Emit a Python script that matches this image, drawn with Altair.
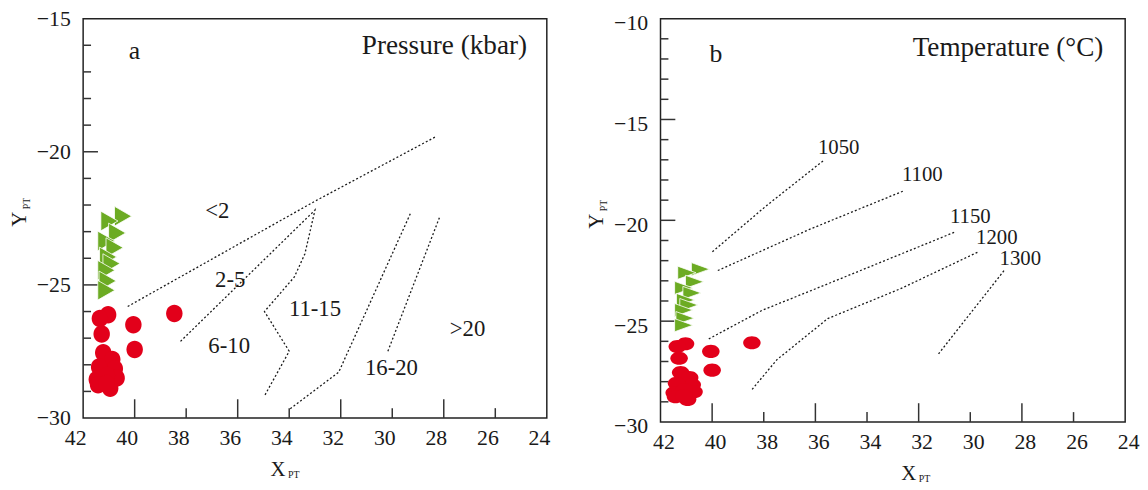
import altair as alt
import pandas as pd

FONT = "Liberation Serif"
RED = "#e2001a"
GREEN = "#6cab23"
INK = "#1a1a1a"

# ---------------- data ----------------
# green triangles (same samples in both panels)
tri_x = [40.45, 40.98, 40.68, 41.10, 40.78, 41.03, 40.90, 41.10, 41.05, 41.10]
tri_y = [-22.42, -22.60, -23.05, -23.35, -23.60, -23.95, -24.20, -24.45, -24.85, -25.20]

# red ellipses
ell_x = [41.03, 41.35, 41.28, 40.05, 40.00, 38.46, 41.22, 40.87, 40.77, 41.38,
         40.70, 41.47, 41.08, 41.42, 40.95, 41.10]
ell_y = [-26.12, -26.26, -26.84, -26.50, -27.43, -26.07, -27.55, -27.80, -28.15, -28.08,
         -28.50, -28.55, -28.40, -28.75, -28.88, -28.70]

# axis ticks
x_ticks = [42, 40, 38, 36, 34, 32, 30, 28, 26, 24]
x_long = [40, 36, 32, 28]
x_short = [38, 34, 30, 26]
ya_ticks = [-30, -25, -20, -15]
ya_major = [-25, -20]
ya_minor = [-29, -28, -27, -26, -24, -23, -22, -21, -19, -18, -17, -16]
yb_ticks = [-30, -25, -20, -15, -10]
yb_major = [-25, -20, -15]
yb_minor = [-29, -28, -27, -26, -24, -23, -22, -21, -19, -18, -17, -16,
            -14, -13, -12, -11]

# pressure boundaries (panel a)
p1_x = [40.27, 32.97, 28.34]
p1_y = [-25.81, -21.84, -19.45]
p2_x = [38.22, 33.00, 33.39, 33.80, 34.96, 34.00, 34.96]
p2_y = [-27.12, -22.19, -23.83, -24.70, -26.00, -27.49, -29.17]
p3_x = [33.96, 32.08, 29.30]
p3_y = [-29.65, -28.28, -22.33]
p4_x = [30.17, 28.14]
p4_y = [-27.49, -22.40]
p_lab = ["<2", "2-5", "6-10", "11-15", "16-20", ">20"]
p_lab_x = [36.79, 36.29, 36.33, 33.00, 30.03, 27.08]
p_lab_y = [-22.24, -24.80, -27.31, -25.92, -28.12, -26.66]

# isotherms (panel b)
t1050_x = [39.99, 37.92, 35.69]
t1050_y = [-21.56, -19.30, -17.04]
t1100_x = [39.78, 36.23, 32.54]
t1100_y = [-22.49, -20.45, -18.52]
t1150_x = [40.13, 38.06, 35.52, 30.59]
t1150_y = [-25.88, -24.46, -23.15, -20.58]
t1200_x = [38.45, 37.49, 35.52, 32.70, 29.68]
t1200_y = [-28.38, -26.91, -24.87, -23.39, -21.56]
t1300_x = [31.23, 28.69]
t1300_y = [-26.62, -22.49]
t_lab = ["1050", "1100", "1150", "1200", "1300"]
t_lab_x = [35.10, 31.86, 30.00, 28.97, 28.06]
t_lab_y = [-16.40, -17.78, -19.85, -20.90, -21.92]


def lines_df(series):
    rows = []
    for gi, (xs, ys) in enumerate(series):
        for oi, (a, b) in enumerate(zip(xs, ys)):
            rows.append({"x": a, "y": b, "g": gi, "o": oi})
    return pd.DataFrame(rows)


def panel(w, h, ydom, y_ticks, y_major, y_minor, lines, labs, labs_x, labs_y,
          tag, title, ell_shape, ell_size, tri_shape, tri_size, xoff, yoff,
          xt_pos, tag_pos, title_pos, lab_size):
    xs = alt.Scale(domain=[24, 42], reverse=True, nice=False, zero=False)
    ys = alt.Scale(domain=ydom, nice=False, zero=False)
    xax = alt.Axis(values=x_ticks, title=None, ticks=False, tickSize=0, domain=False,
                   grid=False, labelFont=FONT, labelFontSize=22, labelColor=INK,
                   labelPadding=10, labelFlush=False, labelOverlap=False,
                   labelOffset=xoff, format="d")
    yax = alt.Axis(values=y_ticks, title=None, ticks=False, tickSize=0, domain=False,
                   grid=False, labelFont=FONT, labelFontSize=22, labelColor=INK,
                   labelPadding=13, labelFlush=False, labelOverlap=False,
                   labelOffset=yoff, format="d")
    X = lambda f: alt.X(f + ":Q", scale=xs, axis=xax)
    Y = lambda f: alt.Y(f + ":Q", scale=ys, axis=yax)

    ldf = lines_df(lines)
    line_layer = alt.Chart(ldf).mark_line(
        color=INK, strokeWidth=1.3, strokeDash=[2, 2.2]
    ).encode(x=X("x"), y=Y("y"), detail="g:N", order="o:Q")

    lab_layer = alt.Chart(pd.DataFrame({"x": labs_x, "y": labs_y, "t": labs})).mark_text(
        font=FONT, fontSize=lab_size, color=INK, align="center", baseline="middle"
    ).encode(x=X("x"), y=Y("y"), text="t:N")

    tri = alt.Chart(pd.DataFrame({"x": tri_x, "y": tri_y})).mark_point(
        shape=tri_shape, filled=True, fill=GREEN, fillOpacity=1, opacity=1,
        stroke="white", strokeWidth=0.8, size=tri_size
    ).encode(x=X("x"), y=Y("y"))

    ell = alt.Chart(pd.DataFrame({"x": ell_x, "y": ell_y})).mark_point(
        shape=ell_shape, filled=True, fill=RED, fillOpacity=1, opacity=1,
        strokeWidth=0, size=ell_size
    ).encode(x=X("x"), y=Y("y"))

    xl = alt.Chart(pd.DataFrame({"x": x_long})).mark_rule(color="#333", strokeWidth=1.5).encode(
        x=X("x"), y=alt.value(h), y2=alt.value(h - 19))
    xsh = alt.Chart(pd.DataFrame({"x": x_short})).mark_rule(color="#333", strokeWidth=1.5).encode(
        x=X("x"), y=alt.value(h), y2=alt.value(h - 10))
    yl = alt.Chart(pd.DataFrame({"y": y_major})).mark_rule(color="#333", strokeWidth=1.5).encode(
        y=Y("y"), x=alt.value(0), x2=alt.value(15))
    ysm = alt.Chart(pd.DataFrame({"y": y_minor})).mark_rule(color="#333", strokeWidth=1.5).encode(
        y=Y("y"), x=alt.value(0), x2=alt.value(8))

    one = pd.DataFrame({"k": [0]})
    def txt(s, x, y, size, align="center", angle=0, baseline="middle"):
        kw = dict(text=s, font=FONT, fontSize=size, color=INK, align=align, baseline=baseline)
        if angle:
            kw["angle"] = angle
        return alt.Chart(one).mark_text(**kw).encode(x=alt.value(x), y=alt.value(y))

    ytit = txt("Y", -64, h / 2 + 1, 21, angle=270)
    ysub = txt("PT", -57, h / 2 - 15, 10, angle=270)
    xtit = txt("X", xt_pos, h + 53, 21)
    xsub = txt("PT", xt_pos + 16, h + 58, 10)
    tagt = txt(tag, tag_pos[0], tag_pos[1], 26)
    titl = txt(title, title_pos[0], title_pos[1], 27.5, align="right")

    return alt.layer(line_layer, xl, xsh, yl, ysm, tri, ell, lab_layer,
                     ytit, ysub, xtit, xsub, tagt, titl).properties(width=w, height=h)


ELL_A = "M-0.94,0A0.94,1,0,1,0,0.94,0A0.94,1,0,1,0,-0.94,0Z"
ELL_B = "M-1,0A1,0.75,0,1,0,1,0A1,0.75,0,1,0,-1,0Z"
TRI_A = "M1,0L-1,-1.15L-1,1.15Z"
TRI_B = "M1,0L-1,-0.72L-1,0.72Z"

left = panel(469, 404, [-30, -15], ya_ticks, ya_major, ya_minor,
             [(p1_x, p1_y), (p2_x, p2_y), (p3_x, p3_y), (p4_x, p4_y)],
             p_lab, p_lab_x, p_lab_y, "a", "Pressure (kbar)",
             ELL_A, 313, TRI_A, 300, -8, 0, 197, (52, 33), (449, 28), 23)

right = panel(470, 408, [-30, -10], yb_ticks, yb_major, yb_minor,
              [(t1050_x, t1050_y), (t1100_x, t1100_y), (t1150_x, t1150_y),
               (t1200_x, t1200_y), (t1300_x, t1300_y)],
              t_lab, t_lab_x, t_lab_y, "b", "Temperature (°C)",
              ELL_B, 313, TRI_B, 340, 3, 4, 251, (56, 36), (448, 30), 21)

chart = alt.hconcat(left, right, spacing=35).properties(
    padding={"left": 0, "top": -4, "right": 0, "bottom": 0}
).configure_view(stroke="#222", strokeWidth=1.5)

chart.save("out.html", embed_options={"renderer": "svg", "actions": False})
